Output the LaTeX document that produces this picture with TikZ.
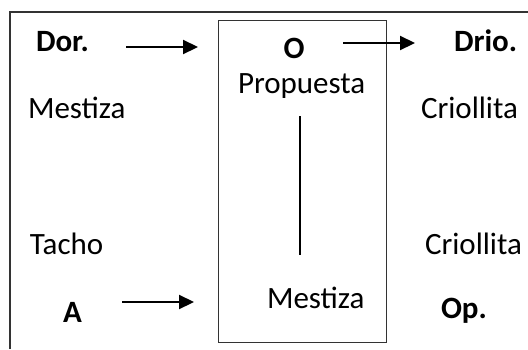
\documentclass[tikz,border=0pt]{standalone}
\usepackage{fontspec}
\setmainfont{Carlito}
\usetikzlibrary{arrows.meta}
\begin{document}
\begin{tikzpicture}[x=1pt,y=-1pt,
  lbl/.style={inner sep=0pt,outer sep=0pt,anchor=base west,font=\fontsize{31}{36}\selectfont},
  blbl/.style={lbl,font=\fontsize{31}{36}\selectfont\bfseries},
  arr/.style={line width=2.2pt,-{Triangle[length=15pt,width=14pt]}},
  frame/.style={line width=1.1pt,draw=black!80}]
\useasboundingbox (0,0) rectangle (528,349);
% outer frame (open on right and bottom)
\draw[frame] (10,349) -- (10,12) -- (528,12);
% inner box
\node[frame,draw,rectangle,minimum width=168pt,minimum height=322pt,anchor=north west,inner sep=0pt] (box) at (217.5,20) {};
% texts
\node[blbl] (dor) at (36,51) {Dor.};
\node[lbl] (mest1) at (28,118) {Mestiza};
\node[blbl,anchor=base] (o) at (294,58) {O};
\node[lbl] (prop) at (238,93) {Propuesta};
\node[blbl] (drio) at (454,51) {Drio.};
\node[lbl] (crio1) at (421,118) {Criollita};
\node[lbl] (tacho) at (30,254) {Tacho};
\node[blbl] (a) at (63,322) {A};
\node[lbl] (crio2) at (425,254) {Criollita};
\node[lbl] (mest2) at (267,308) {Mestiza};
\node[blbl] (op) at (441,318) {Op.};
% arrow endpoints
\coordinate (d1) at (126,47);
\coordinate (d2) at (198,47);
\coordinate (o1) at (343,43);
\coordinate (o2) at (415,43);
\coordinate (a1) at (122,302);
\coordinate (a2) at (194,302);
\coordinate (v1) at (300,116);
\coordinate (v2) at (300,255);
\draw[arr] (d1) -- (d2);
\draw[arr] (o1) -- (o2);
\draw[arr] (a1) -- (a2);
\draw[line width=1.5pt] (v1) -- (v2);
\end{tikzpicture}
\end{document}
